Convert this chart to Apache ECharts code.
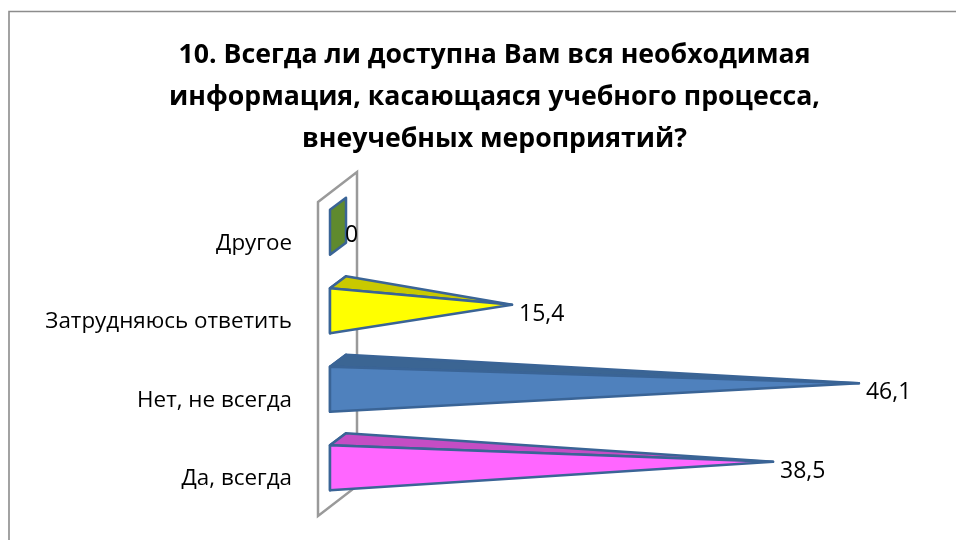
<!DOCTYPE html>
<html><head><meta charset="utf-8">
<style>html,body{margin:0;padding:0;background:#fff}#c{width:956px;height:540px}</style>
<script src="https://cdn.jsdelivr.net/npm/echarts@6/dist/echarts.min.js"></script>
</head><body><div id="c"></div>
<script>
const categories = ['Да, всегда', 'Нет, не всегда', 'Затрудняюсь ответить', 'Другое'];
const values = [38.5, 46.1, 15.4, 0];
const frontColors = ['#FF66FF', '#4F81BD', '#FFFF00', '#5F8A2E'];
const topColors = ['#C44DC4', '#3B6593', '#C9C900', '#5F8A2E'];
const titleText = '10. Всегда ли доступна Вам вся необходимая\nинформация, касающаяся учебного процесса,\nвнеучебных мероприятий?';
const depthX = 16, depthY = 12, edge = '#3A6496', FONT = '"Open Sans", sans-serif';

function renderBar(params, api) {
  const i = api.value(1), v = api.value(0);
  const base = api.coord([0, i]);
  const h = api.size([0, 1])[1] * 0.575;
  const x0 = base[0], top = base[1] - h / 2, bot = base[1] + h / 2;
  const apex = [api.coord([v, i])[0] + depthX / 2, base[1] - depthY / 2];
  const sty = (fill) => ({ fill, stroke: edge, lineWidth: 2.5, lineJoin: 'round' });
  const poly = (points, fill) => ({ type: 'polygon', shape: { points }, style: sty(fill) });
  const children = [
    poly([[x0, top], [x0, bot], [x0 + depthX, bot - depthY], [x0 + depthX, top - depthY]], topColors[i])
  ];
  if (v > 0) {
    children.push(poly([[x0, top], [x0 + depthX, top - depthY], apex], topColors[i]));
    children.push(poly([[x0, top], [x0, bot], apex], frontColors[i]));
  }
  children.push({ type: 'text', x: apex[0] + 7, y: apex[1] + 9.5, style: {
    text: String(v).replace('.', ','), font: '23px ' + FONT, fill: '#000',
    textAlign: 'left', textVerticalAlign: 'middle' } });
  return { type: 'group', children };
}
function renderWall(params, api) {
  const x = api.coord([0, 0])[0], ct = api.coord([0, 3])[1], cb = api.coord([0, 0])[1];
  const step = (cb - ct) / 3;
  const t = ct - step / 2 + 9, b = cb + step / 2 + 9;
  return { type: 'polygon', shape: { points: [[x - 12, t], [x + 27, t - 30], [x + 27, b - 30], [x - 12, b]] },
    style: { fill: 'none', stroke: '#9A9A9A', lineWidth: 2.5 } };
}
const chart = echarts.init(document.getElementById('c'), null, { renderer: 'canvas' });
chart.setOption({
  animation: false,
  backgroundColor: '#fff',
  title: { text: titleText, left: 489.5, top: 29, textAlign: 'center',
    textStyle: { fontFamily: FONT, fontWeight: 'bold', fontSize: 26.7, lineHeight: 42, color: '#000' } },
  grid: { left: 330, right: 60, top: 193, bottom: 33 },
  xAxis: { type: 'value', min: 0, max: (956 - 60 - 330) / 11.3, show: false },
  yAxis: { type: 'category', data: categories, axisLine: { show: false }, axisTick: { show: false },
    axisLabel: { fontFamily: FONT, fontSize: 22.4, lineHeight: 22, verticalAlign: 'top', color: '#000', margin: 38 } },
  series: [
    { type: 'custom', z: 1, silent: true, renderItem: renderWall, data: [[0, 0]], encode: { x: 0, y: 1 } },
    { type: 'custom', z: 2, renderItem: renderBar, encode: { x: 0, y: 1 },
      data: values.map((v, i) => [v, i]) }
  ],
  graphic: [{ type: 'polyline', z: 0, silent: true, shape: { points: [[9, 540], [9, 11.5], [956, 11.5]] },
    style: { stroke: '#8C8C8C', lineWidth: 1.6, fill: 'none' } }]
});
</script></body></html>
